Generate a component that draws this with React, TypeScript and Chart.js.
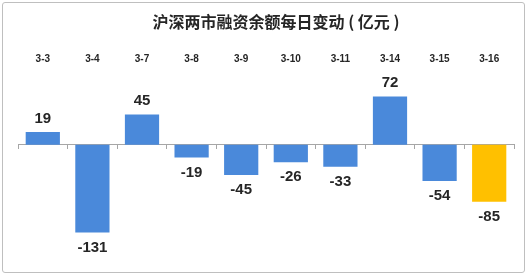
import React, { useEffect, useRef } from "react";
import { Chart, registerables } from "chart.js";

Chart.register(...registerables);

const TITLE = "沪深两市融资余额每日变动 ( 亿元 )";
const categories = ["3-3", "3-4", "3-7", "3-8", "3-9", "3-10", "3-11", "3-14", "3-15", "3-16"];
const changes = [19, -131, 45, -19, -45, -26, -33, 72, -54, -85];
const BLUE = "#4a89da";
const GOLD = "#ffc000";
const highlightIndex = 9;

const barColors = changes.map((_, i) => (i === highlightIndex ? GOLD : BLUE));

const valueLabels = {
  id: "valueLabels",
  afterDatasetsDraw(chart: any) {
    const ctx = chart.ctx;
    const meta = chart.getDatasetMeta(0);
    ctx.save();
    ctx.font = "bold 15px 'Liberation Sans', Arial, sans-serif";
    ctx.fillStyle = "#262626";
    ctx.textAlign = "center";
    ctx.textBaseline = "middle";
    meta.data.forEach((el: any, i: number) => {
      const v = changes[i];
      const y = v >= 0 ? el.y - 13.5 : el.y + 15;
      ctx.fillText(String(v), el.x, y);
    });
    ctx.restore();
  },
};

const titlePlugin = {
  id: "titleText",
  afterDraw(chart: any) {
    const ctx = chart.ctx;
    const area = chart.chartArea;
    ctx.save();
    ctx.font = "bold 16px 'Noto Sans CJK SC', sans-serif";
    ctx.fillStyle = "#262626";
    ctx.textAlign = "center";
    ctx.textBaseline = "middle";
    ctx.fillText(TITLE, (area.left + area.right) / 2 + 10, 22);
    ctx.restore();
  },
};

export default function App() {
  const ref = useRef<HTMLCanvasElement | null>(null);
  useEffect(() => {
    const prevMargin = document.body.style.margin;
    document.body.style.margin = "0";
    const chart = new Chart(ref.current as HTMLCanvasElement, {
      type: "bar",
      data: {
        labels: categories,
        datasets: [
          {
            data: changes,
            backgroundColor: barColors,
            borderWidth: 0,
            barPercentage: 0.69,
            categoryPercentage: 1,
            xAxisID: "x",
          },
        ],
      },
      options: {
        responsive: false,
        animation: false,
        layout: { padding: { top: 47, left: 18, right: 15, bottom: 25 } },
        plugins: {
          legend: { display: false },
          tooltip: { enabled: false },
          title: { display: false },
        },
        scales: {
          x: {
            type: "category",
            position: { y: 0 } as any,
            offset: true,
            grid: {
              offset: true,
              drawOnChartArea: false,
              drawTicks: true,
              tickLength: 4,
              color: "#a6a6a6",
            },
            border: { display: true, color: "#a6a6a6", width: 1 },
            ticks: { display: false },
          },
          x2: {
            type: "category",
            position: "top",
            offset: true,
            grid: { display: false, drawTicks: false },
            border: { display: false },
            ticks: {
              padding: 6,
              color: "#262626",
              font: { family: "'Liberation Sans', Arial, sans-serif", size: 10, weight: "bold" },
              maxRotation: 0,
            },
          },
          y: {
            display: false,
            min: -160,
            max: 110,
          },
        },
      },
      plugins: [valueLabels, titlePlugin],
    });
    return () => {
      chart.destroy();
      document.body.style.margin = prevMargin;
    };
  }, []);

  return (
    <div style={{ position: "fixed", left: 0, top: 0, width: 529, height: 277, background: "#fff" }}>
      <div
        style={{
          position: "absolute",
          left: 2,
          top: 2,
          width: 523,
          height: 271,
          border: "1px solid #bfbfbf",
          borderRadius: 3,
          boxSizing: "border-box",
        }}
      />
      <canvas ref={ref} width={529} height={277} style={{ position: "absolute", left: 0, top: 0 }} />
    </div>
  );
}
